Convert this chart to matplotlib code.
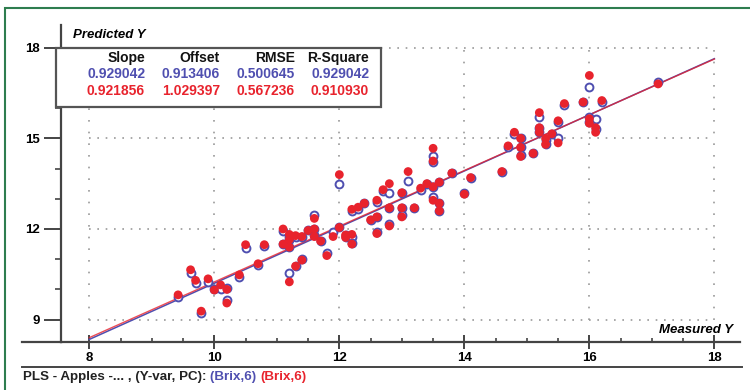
import numpy as np
import matplotlib.pyplot as plt
from matplotlib.patches import Rectangle
from matplotlib.lines import Line2D
from matplotlib.ticker import MultipleLocator

plt.rcParams['font.family'] = ['Liberation Sans', 'DejaVu Sans']

# measured values and the two sets of predictions (blue / red)
measured = [9.42, 9.62, 9.70, 9.79, 9.90, 10.00, 10.10, 10.20, 10.20, 10.40,
            10.50, 10.70, 10.80, 11.10, 11.10, 11.20, 11.20, 11.20, 11.20, 11.30,
            11.30, 11.40, 11.40, 11.50, 11.60, 11.60, 11.60, 11.70, 11.80, 11.90,
            12.00, 12.00, 12.10, 12.10, 12.20, 12.20, 12.20, 12.30, 12.40, 12.50,
            12.60, 12.60, 12.60, 12.70, 12.80, 12.80, 12.80, 13.00, 13.00, 13.00,
            13.10, 13.20, 13.30, 13.40, 13.50, 13.50, 13.50, 13.50, 13.60, 13.60,
            13.60, 13.80, 14.00, 14.10, 14.60, 14.70, 14.80, 14.90, 14.90, 14.90,
            15.10, 15.20, 15.20, 15.20, 15.30, 15.30, 15.40, 15.50, 15.50, 15.60,
            15.90, 16.00, 16.00, 16.00, 16.10, 16.10, 16.20, 17.10]
pred_blue = [9.75, 10.55, 10.20, 9.22, 10.25, 10.00, 10.00, 9.65, 10.05, 10.40,
             11.37, 10.80, 11.45, 11.93, 11.50, 10.55, 11.75, 11.65, 11.42, 10.77,
             11.75, 11.00, 11.75, 11.95, 12.45, 12.00, 11.80, 11.60, 11.20, 11.90,
             13.50, 12.05, 11.80, 11.75, 12.60, 11.75, 11.55, 12.65, 12.85, 12.30,
             12.90, 12.40, 11.90, 13.25, 13.20, 12.70, 12.15, 13.20, 12.70, 12.45,
             13.60, 12.70, 13.30, 13.50, 14.40, 14.20, 13.40, 13.05, 13.55, 12.85,
             12.60, 13.85, 13.20, 13.70, 13.90, 14.70, 15.15, 15.00, 14.70, 14.45,
             14.50, 15.70, 15.35, 15.20, 14.95, 14.80, 15.15, 15.55, 15.00, 16.10,
             16.20, 16.70, 15.70, 15.55, 15.65, 15.30, 16.20, 16.85]
pred_red = [9.82, 10.65, 10.30, 9.28, 10.35, 9.98, 10.15, 9.55, 10.00, 10.48,
            11.48, 10.85, 11.48, 12.00, 11.50, 10.25, 11.82, 11.65, 11.40, 10.77,
            11.78, 10.97, 11.75, 11.95, 12.35, 12.00, 11.75, 11.60, 11.12, 11.75,
            13.80, 12.05, 11.80, 11.72, 12.65, 11.82, 11.50, 12.72, 12.85, 12.30,
            12.95, 12.40, 11.85, 13.30, 13.50, 12.70, 12.10, 13.20, 12.70, 12.40,
            13.90, 12.70, 13.35, 13.50, 14.67, 14.25, 13.40, 12.95, 13.55, 12.85,
            12.60, 13.85, 13.15, 13.70, 13.90, 14.75, 15.20, 15.00, 14.70, 14.40,
            14.50, 15.85, 15.35, 15.20, 15.00, 14.80, 15.15, 15.58, 14.85, 16.15,
            16.20, 17.08, 15.65, 15.50, 15.35, 15.20, 16.25, 16.80]

headers = ['Slope', 'Offset', 'RMSE', 'R-Square']
stats_blue = ['0.929042', '0.913406', '0.500645', '0.929042']
stats_red = ['0.921856', '1.029397', '0.567236', '0.910930']
slope_blue, offset_blue = 0.929042, 0.913406
slope_red, offset_red = 0.921856, 1.029397

BLUE = '#4f4fb0'
RED = '#e8232d'
W, H = 750, 390

def fx(px):
    return px / W

def fy(py):
    return 1 - py / H

fig = plt.figure(figsize=(7.5, 3.9), dpi=100)
ax = fig.add_axes([fx(61), fy(342), fx(740) - fx(61), fy(25) - fy(342)])
ax.set_xlim(7.547, 18.41)
ax.set_ylim(8.26, 18.75)

# dotted grid, only inside 8..18 / 9..18
for gx in [8, 10, 12, 14, 16, 18]:
    ax.vlines(gx, 9, 18, colors='#999999', linestyles=(0, (1, 6)), lw=1.2, zorder=1)
for gy in [9, 12, 15, 18]:
    ax.hlines(gy, 8, 18, colors='#999999', linestyles=(0, (1, 4)), lw=1.2, zorder=1)

# regression lines
xl = np.array([8, 18])
ax.plot(xl, slope_blue * xl + offset_blue, color=BLUE, lw=1.1, zorder=3)
ax.plot(xl, slope_red * xl + offset_red, color=RED, lw=1.0, alpha=0.8, zorder=3)

ax.scatter(measured, pred_blue, s=32, facecolors='white', edgecolors=BLUE, linewidths=1.4, zorder=4)
ax.scatter(measured, pred_red, s=40, color=RED, edgecolors='none', zorder=5)

# ticks and spines
for s in ['top', 'right']:
    ax.spines[s].set_visible(False)
for s in ['left', 'bottom']:
    ax.spines[s].set_color('#444444')
    ax.spines[s].set_linewidth(1.6)
ax.set_xticks([8, 10, 12, 14, 16, 18])
ax.set_yticks([9, 12, 15, 18])
ax.xaxis.set_minor_locator(MultipleLocator(0.5))
ax.yaxis.set_minor_locator(MultipleLocator(1))
ax.tick_params(axis='x', which='major', direction='inout', length=10, width=1.4,
               color='#444444', labelsize=9.5, pad=2)
ax.tick_params(axis='x', which='minor', direction='in', length=3, width=1.2, color='#444444')
ax.tick_params(axis='y', which='major', direction='out', length=12, width=1.4,
               color='#444444', labelsize=9.5, pad=3)
ax.tick_params(axis='y', which='minor', direction='out', length=4, width=1.2, color='#444444')
for lab in ax.get_xticklabels() + ax.get_yticklabels():
    lab.set_fontweight('bold')

# stats box
box = Rectangle((fx(56), fy(107)), fx(381) - fx(56), fy(47.7) - fy(107),
                transform=fig.transFigure, facecolor='white', edgecolor='#555555',
                lw=1.6, zorder=6, clip_on=False)
ax.add_patch(box)
col_right = [145, 220, 295, 369]
for i in range(4):
    fig.text(fx(col_right[i]), fy(58), headers[i], ha='right', va='center',
             fontsize=10, fontweight='bold', color='#111111', zorder=7)
    fig.text(fx(col_right[i]), fy(74.5), stats_blue[i], ha='right', va='center',
             fontsize=10, fontweight='bold', color=BLUE, zorder=7)
    fig.text(fx(col_right[i]), fy(91), stats_red[i], ha='right', va='center',
             fontsize=10, fontweight='bold', color=RED, zorder=7)

fig.text(fx(73), fy(35), 'Predicted Y', fontsize=9.5, fontweight='bold', style='italic',
         ha='left', va='center')
fig.text(fx(733), fy(330), 'Measured Y', fontsize=9.5, fontweight='bold', style='italic',
         ha='right', va='center')

# extra frame lines
fig.add_artist(Line2D([fx(22), fx(61)], [fy(342), fy(342)], color='#444444', lw=1.6))
fig.add_artist(Line2D([fx(22), fx(742)], [fy(367), fy(367)], color='#444444', lw=1.4))
fig.add_artist(Rectangle((fx(5), fy(400)), 1.0, fy(8) - fy(400), transform=fig.transFigure,
                         fill=False, edgecolor='#2e7d4f', lw=1.5))

# status line
t1 = fig.text(fx(23), fy(377), 'PLS - Apples -... , (Y-var, PC): ', fontsize=9.6,
              fontweight='bold', color='#222222', ha='left', va='center')
fig.canvas.draw()
bb = t1.get_window_extent()
t2 = fig.text(bb.x1 / W, fy(377), '(Brix,6) ', fontsize=9.6, fontweight='bold',
              color=BLUE, ha='left', va='center')
bb2 = t2.get_window_extent()
fig.text(bb2.x1 / W, fy(377), '(Brix,6)', fontsize=9.6, fontweight='bold',
         color=RED, ha='left', va='center')

fig.savefig('out.png', dpi=100)
